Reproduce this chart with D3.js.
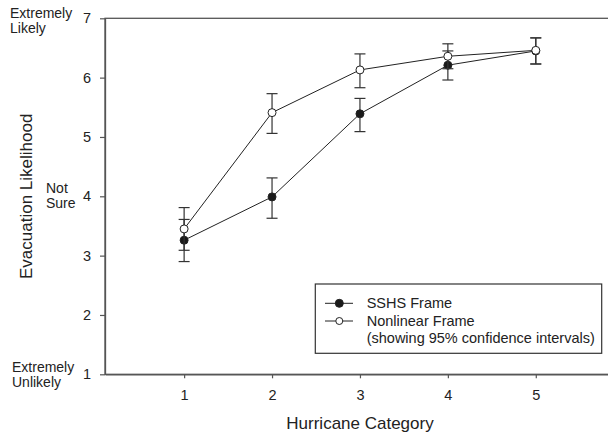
<!DOCTYPE html>
<html>
<head>
<meta charset="utf-8">
<script src="https://cdnjs.cloudflare.com/ajax/libs/d3/7.8.5/d3.min.js"></script>
<style>
	body { margin: 0; background: #fff; }
	text { font-family: Arial, "Liberation Sans", sans-serif; fill: #222; }
</style>
</head>
<body>
<div id="chartDiv"></div>
<script>
;(function() {

	// hurricane categories on the x axis
	var categories = [1, 2, 3, 4, 5];

	// mean evacuation likelihood and 95% CI, SSHS frame (filled dots)
	var sshsMean = [3.26, 3.99, 5.39, 6.21, 6.45];
	var sshsLow = [2.90, 3.63, 5.09, 5.96, 6.23];
	var sshsHigh = [3.61, 4.31, 5.65, 6.45, 6.67];

	// nonlinear frame (open dots)
	var nonlinMean = [3.45, 5.41, 6.13, 6.36, 6.46];
	var nonlinLow = [3.09, 5.06, 5.83, 6.15, 6.23];
	var nonlinHigh = [3.81, 5.73, 6.40, 6.57, 6.67];

	var yTicks = [1, 2, 3, 4, 5, 6, 7];
	var xAxisLabelHeader = "Hurricane Category";
	var yAxisLabelHeader = "Evacuation Likelihood";
	var legendLabels = ["SSHS Frame", "Nonlinear Frame", "(showing 95% confidence intervals)"];

	var width = 608;
	var height = 435;
	var plot = { left: 105, top: 18.3, right: 623.7, bottom: 374.3 };
	var circleRadius = 4;
	var capHalf = 5.5;
	var axisColor = "#555";
	var lineColor = "#222";

	var chart;

	init();

	function init() {
		chart = d3.select("#chartDiv").append("svg")
			.attr("width", width)
			.attr("height", height);

		createScales();
		createAxes();
		drawSeries(buildSeries(sshsMean, sshsLow, sshsHigh), true);
		drawSeries(buildSeries(nonlinMean, nonlinLow, nonlinHigh), false);
		drawLegend();
	}

	function buildSeries(mean, low, high) {
		return categories.map(function(c, i) {
			return { x: c, y: mean[i], lo: low[i], hi: high[i] };
		});
	}

	function createScales() {
		chart.xScale = d3.scaleLinear()
			.domain([0.1, 6.0])
			.range([plot.left, plot.right]);

		chart.yScale = d3.scaleLinear()
			.domain([1, 7])
			.range([plot.bottom, plot.top]);
	}

	function createAxes() {
		// frame (top and right edges run off the picture)
		chart.append("rect")
			.attr("x", plot.left)
			.attr("y", plot.top)
			.attr("width", plot.right - plot.left)
			.attr("height", plot.bottom - plot.top)
			.attr("fill", "none")
			.attr("stroke", axisColor)
			.attr("stroke-width", 1.3);

		chart.xAxis = d3.axisBottom(chart.xScale)
			.tickValues(categories)
			.tickFormat(d3.format("d"))
			.tickSizeInner(4)
			.tickSizeOuter(0)
			.tickPadding(11);

		var gx = chart.append("g")
			.attr("transform", "translate(0," + plot.bottom + ")")
			.call(chart.xAxis);

		chart.yAxis = d3.axisLeft(chart.yScale)
			.tickValues(yTicks)
			.tickFormat(d3.format("d"))
			.tickSizeInner(5)
			.tickSizeOuter(0)
			.tickPadding(9);

		var gy = chart.append("g")
			.attr("transform", "translate(" + plot.left + ",0)")
			.call(chart.yAxis);

		[gx, gy].forEach(function(g) {
			g.select(".domain").attr("stroke", axisColor).attr("stroke-width", 1.3);
			g.selectAll(".tick line").attr("stroke", axisColor).attr("stroke-width", 1.2);
			g.selectAll(".tick text")
				.style("font-size", "14.5px")
				.style("font-family", "Arial, 'Liberation Sans', sans-serif")
				.attr("fill", "#222");
		});

		// x axis header label
		chart.append("text")
			.style("font-size", "17px")
			.attr("text-anchor", "middle")
			.attr("x", 360)
			.attr("y", 429)
			.text(xAxisLabelHeader);

		// y axis header label
		chart.append("text")
			.style("font-size", "17px")
			.attr("text-anchor", "middle")
			.attr("transform", "translate(31.5," + chart.yScale(4) + ") rotate(-90)")
			.text(yAxisLabelHeader);

		// verbal anchors beside the scale
		addLines(["Extremely", "Likely"], 10, 18, 15);
		addLines(["Not", "Sure"], 46, 193.3, 15);
		addLines(["Extremely", "Unlikely"], 12, 371.7, 15.6);
	}

	function addLines(lines, x, y, dy) {
		var t = chart.append("text")
			.style("font-size", "14px")
			.attr("x", x)
			.attr("y", y);
		t.selectAll("tspan").data(lines).enter().append("tspan")
			.attr("x", x)
			.attr("dy", function(d, i) { return i === 0 ? 0 : dy; })
			.text(function(d) { return d; });
	}

	function drawSeries(series, filled) {
		var g = chart.append("g");
		var line = d3.line()
			.x(function(d) { return chart.xScale(d.x); })
			.y(function(d) { return chart.yScale(d.y); });

		g.append("path")
			.datum(series)
			.attr("d", line)
			.attr("fill", "none")
			.attr("stroke", lineColor)
			.attr("stroke-width", 1);

		// error bars
		var bars = g.selectAll(".err").data(series).enter().append("g").attr("class", "err");
		bars.append("line")
			.attr("x1", function(d) { return chart.xScale(d.x); })
			.attr("x2", function(d) { return chart.xScale(d.x); })
			.attr("y1", function(d) { return chart.yScale(d.lo); })
			.attr("y2", function(d) { return chart.yScale(d.hi); });
		bars.append("line")
			.attr("x1", function(d) { return chart.xScale(d.x) - capHalf; })
			.attr("x2", function(d) { return chart.xScale(d.x) + capHalf; })
			.attr("y1", function(d) { return chart.yScale(d.lo); })
			.attr("y2", function(d) { return chart.yScale(d.lo); });
		bars.append("line")
			.attr("x1", function(d) { return chart.xScale(d.x) - capHalf; })
			.attr("x2", function(d) { return chart.xScale(d.x) + capHalf; })
			.attr("y1", function(d) { return chart.yScale(d.hi); })
			.attr("y2", function(d) { return chart.yScale(d.hi); });
		bars.selectAll("line")
			.attr("stroke", "#333")
			.attr("stroke-width", 1.2);

		g.selectAll(".dot").data(series).enter().append("circle")
			.attr("class", "dot")
			.attr("cx", function(d) { return chart.xScale(d.x); })
			.attr("cy", function(d) { return chart.yScale(d.y); })
			.attr("r", circleRadius)
			.attr("fill", filled ? "#1a1a1a" : "#fff")
			.attr("stroke", lineColor)
			.attr("stroke-width", 1);
	}

	function drawLegend() {
		var box = { x: 315.3, y: 284, w: 286.4, h: 69.3 };
		var lg = chart.append("g");

		lg.append("rect")
			.attr("x", box.x)
			.attr("y", box.y)
			.attr("width", box.w)
			.attr("height", box.h)
			.attr("fill", "#fff")
			.attr("stroke", "#333")
			.attr("stroke-width", 1.2);

		var rows = [303.3, 321, 338.3];
		[true, false].forEach(function(filled, i) {
			lg.append("line")
				.attr("x1", 325).attr("x2", 353)
				.attr("y1", rows[i]).attr("y2", rows[i])
				.attr("stroke", lineColor)
				.attr("stroke-width", 1);
			lg.append("circle")
				.attr("cx", 339.3)
				.attr("cy", rows[i])
				.attr("r", filled ? 4 : 3.5)
				.attr("fill", filled ? "#1a1a1a" : "#fff")
				.attr("stroke", lineColor)
				.attr("stroke-width", 1);
		});

		lg.selectAll(".leg-text").data(legendLabels).enter().append("text")
			.attr("class", "leg-text")
			.style("font-size", "14.5px")
			.attr("x", 366.7)
			.attr("y", function(d, i) { return rows[i] + 5; })
			.text(function(d) { return d; });
	}

})();
</script>
</body>
</html>
